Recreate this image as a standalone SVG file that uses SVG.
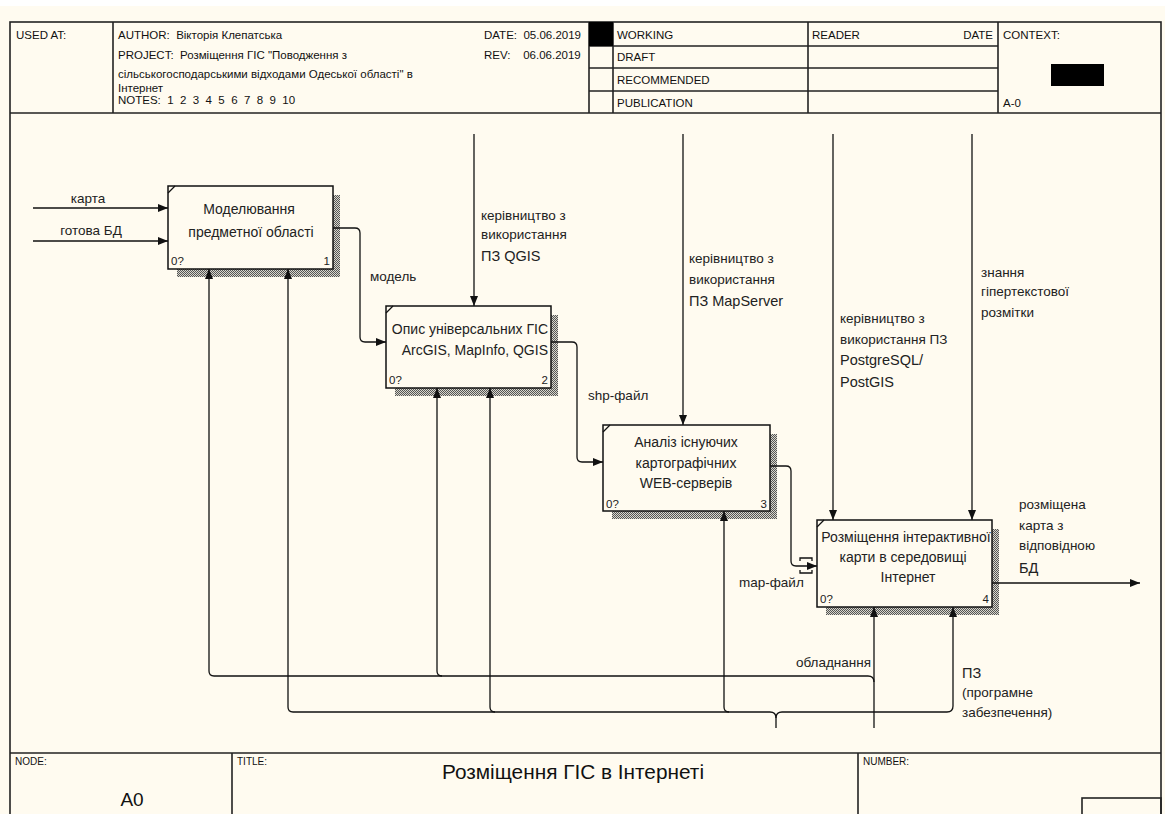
<svg xmlns="http://www.w3.org/2000/svg" width="1165" height="814" viewBox="0 0 1165 814">
<style>
.t{font-family:"Liberation Sans",Arial,sans-serif;fill:#111}
.h{font-size:11.5px;white-space:pre}
.f{font-size:10px}
.bx{font-size:14px;fill:#222}
.n{font-size:11.5px;fill:#222}
.l{font-size:13.5px;fill:#222}
.lb{font-size:14.5px;fill:#222}
.fr{fill:none;stroke:#222;stroke-width:1.6}
.c{fill:none;stroke:#111;stroke-width:1.3}
.box{fill:#fffbf0;stroke:#111;stroke-width:1.5}
.sh{fill:url(#hatch)}
</style>
<defs>
<pattern id="hatch" width="2" height="2" patternUnits="userSpaceOnUse">
<rect width="2" height="2" fill="#d8d6cc"/>
<rect width="1" height="1" fill="#555"/>
<rect x="1" y="1" width="1" height="1" fill="#555"/>
</pattern>
<marker id="ah" viewBox="0 0 10 8" refX="10" refY="4" markerWidth="10" markerHeight="8" markerUnits="userSpaceOnUse" orient="auto">
<path d="M0,0 L10,4 L0,8 z" fill="#111"/>
</marker>
</defs>
<rect width="1165" height="814" fill="#ffffff"/>
<rect y="6" width="1165" height="808" fill="#fffbf0"/>

<g id="frame">
<rect class="fr" x="10" y="22" width="1151" height="800"/>
<line class="fr" x1="10" y1="113" x2="1161" y2="113"/>
<line class="fr" x1="113" y1="22" x2="113" y2="113"/>
<line class="fr" x1="589" y1="22" x2="589" y2="113"/>
<line class="fr" x1="613" y1="22" x2="613" y2="113"/>
<line class="fr" x1="808" y1="22" x2="808" y2="113"/>
<line class="fr" x1="998" y1="22" x2="998" y2="113"/>
<line class="fr" x1="589" y1="46" x2="998" y2="46"/>
<line class="fr" x1="589" y1="68" x2="998" y2="68"/>
<line class="fr" x1="589" y1="91" x2="998" y2="91"/>
<rect x="589" y="22" width="24" height="24" fill="#000"/>
<rect x="1051" y="64" width="53" height="22" fill="#000"/>
<line class="fr" x1="10" y1="753" x2="1161" y2="753"/>
<line class="fr" x1="232" y1="753" x2="232" y2="814"/>
<line class="fr" x1="858" y1="753" x2="858" y2="814"/>
<rect class="fr" x="1082" y="798" width="79" height="24"/>
<text class="t h" x="16" y="39">USED AT:</text>
<text class="t h" x="118" y="39">AUTHOR:  Вікторія Клепатська</text>
<text class="t h" x="118" y="59">PROJECT:  Розміщення ГІС "Поводження з</text>
<text class="t h" x="118" y="78">сільськогосподарськими відходами Одеської області" в</text>
<text class="t h" x="118" y="92">Інтернет</text>
<text class="t h" x="118" y="104">NOTES:  1  2  3  4  5  6  7  8  9  10</text>
<text class="t h" x="484" y="39">DATE:  05.06.2019</text>
<text class="t h" x="484" y="59">REV:    06.06.2019</text>
<text class="t h" x="617" y="39">WORKING</text>
<text class="t h" x="617" y="61">DRAFT</text>
<text class="t h" x="617" y="84">RECOMMENDED</text>
<text class="t h" x="617" y="107">PUBLICATION</text>
<text class="t h" x="812" y="39">READER</text>
<text class="t h" x="993" y="39" text-anchor="end">DATE</text>
<text class="t h" x="1003" y="39">CONTEXT:</text>
<text class="t h" x="1003" y="107">A-0</text>
<text class="t f" x="15" y="765">NODE:</text>
<text class="t f" x="237" y="765">TITLE:</text>
<text class="t f" x="863" y="765">NUMBER:</text>
<text class="t" x="132" y="806" font-size="19" text-anchor="middle">A0</text>
<text class="t" x="442" y="779" font-size="20" textLength="262" lengthAdjust="spacingAndGlyphs">Розміщення ГІС в Інтернеті</text>
</g>

<g id="node1">
<rect class="sh" x="333" y="195" width="7" height="82"/>
<rect class="sh" x="177" y="269" width="163" height="8"/>
<rect class="box" x="168" y="186" width="165" height="83"/>
<line class="c" x1="168" y1="193" x2="175" y2="186"/>
<text class="t bx" x="249" y="214" text-anchor="middle">Моделювання</text>
<text class="t bx" x="251" y="237" text-anchor="middle">предметної області</text>
<text class="t n" x="171" y="265">0?</text>
<text class="t n" x="330" y="265" text-anchor="end">1</text>
</g>

<g id="node2">
<rect class="sh" x="551" y="315" width="7" height="81"/>
<rect class="sh" x="395" y="388" width="163" height="8"/>
<rect class="box" x="386" y="306" width="165" height="82"/>
<line class="c" x1="386" y1="313" x2="393" y2="306"/>
<text class="t bx" x="548" y="334" text-anchor="end">Опис універсальних ГІС</text>
<text class="t bx" x="548" y="355" text-anchor="end">ArcGIS, MapInfo, QGIS</text>
<text class="t n" x="389" y="384">0?</text>
<text class="t n" x="548" y="384" text-anchor="end">2</text>
</g>

<g id="node3">
<rect class="sh" x="770" y="434" width="7" height="85"/>
<rect class="sh" x="612" y="511" width="165" height="8"/>
<rect class="box" x="603" y="425" width="167" height="86"/>
<line class="c" x1="603" y1="432" x2="610" y2="425"/>
<text class="t bx" x="686" y="447" text-anchor="middle">Аналіз існуючих</text>
<text class="t bx" x="686" y="468" text-anchor="middle">картографічних</text>
<text class="t bx" x="686" y="488" text-anchor="middle">WEB-серверів</text>
<text class="t n" x="606" y="508">0?</text>
<text class="t n" x="767" y="508" text-anchor="end">3</text>
</g>

<g id="node4">
<rect class="sh" x="992" y="529" width="7" height="86"/>
<rect class="sh" x="826" y="607" width="173" height="8"/>
<rect class="box" x="817" y="520" width="175" height="87"/>
<line class="c" x1="817" y1="527" x2="824" y2="520"/>
<text class="t bx" x="906" y="542" text-anchor="middle">Розміщення інтерактивної</text>
<text class="t bx" x="903" y="562" text-anchor="middle">карти в середовищі</text>
<text class="t bx" x="908" y="582" text-anchor="middle">Інтернет</text>
<text class="t n" x="820" y="603">0?</text>
<text class="t n" x="989" y="603" text-anchor="end">4</text>
</g>

<g id="connectors">
<path class="c" d="M33,208 H168" marker-end="url(#ah)"/>
<path class="c" d="M33,241 H168" marker-end="url(#ah)"/>
<path class="c" d="M333,228 H355 Q360,228 360,233 V337 Q360,342 365,342 H386" marker-end="url(#ah)"/>
<path class="c" d="M551,342 H572 Q577,342 577,347 V457 Q577,462 582,462 H603" marker-end="url(#ah)"/>
<path class="c" d="M770,466 H786 Q791,466 791,471 V561 Q791,566 796,566 H817" marker-end="url(#ah)"/>
<path class="c" d="M800,561 V558 H812 V561 M800,570 V573 H812 V570"/>
<path class="c" d="M992,583 H1140" marker-end="url(#ah)"/>
<path class="c" d="M474,134 V306" marker-end="url(#ah)"/>
<path class="c" d="M683,134 V425" marker-end="url(#ah)"/>
<path class="c" d="M833,134 V520" marker-end="url(#ah)"/>
<path class="c" d="M972,134 V520" marker-end="url(#ah)"/>
<path class="c" d="M874,728 V607" marker-end="url(#ah)"/>
<path class="c" d="M874,682 Q874,676 868,676 H214 Q209,676 209,671 V269" marker-end="url(#ah)"/>
<path class="c" d="M442,676 Q437,676 437,671 V388" marker-end="url(#ah)"/>
<path class="c" d="M776,728 V718 Q776,712 770,712 H293 Q288,712 288,707 V269" marker-end="url(#ah)"/>
<path class="c" d="M776,718 Q776,712 782,712 H947 Q953,712 953,706 V607" marker-end="url(#ah)"/>
<path class="c" d="M495,712 Q490,712 490,707 V388" marker-end="url(#ah)"/>
<path class="c" d="M729,712 Q724,712 724,707 V511" marker-end="url(#ah)"/>
</g>

<g id="labels">
<text class="t l" x="88" y="203" text-anchor="middle">карта</text>
<text class="t l" x="91" y="235" text-anchor="middle">готова БД</text>
<text class="t l" x="370" y="281">модель</text>
<text class="t l" x="481" y="220">керівництво з</text>
<text class="t l" x="481" y="239">використання</text>
<text class="t lb" x="481" y="261">ПЗ QGIS</text>
<text class="t l" x="689" y="263">керівництво з</text>
<text class="t l" x="689" y="284">використання</text>
<text class="t lb" x="689" y="306">ПЗ MapServer</text>
<text class="t l" x="840" y="323">керівництво з</text>
<text class="t l" x="840" y="344">використання ПЗ</text>
<text class="t lb" x="840" y="365">PostgreSQL/</text>
<text class="t lb" x="840" y="387">PostGIS</text>
<text class="t l" x="981" y="277">знання</text>
<text class="t l" x="981" y="296">гіпертекстової</text>
<text class="t l" x="981" y="317">розмітки</text>
<text class="t l" x="588" y="400">shp-файл</text>
<text class="t l" x="739" y="587">map-файл</text>
<text class="t l" x="1019" y="509">розміщена</text>
<text class="t l" x="1019" y="530">карта з</text>
<text class="t l" x="1019" y="550">відповідною</text>
<text class="t lb" x="1019" y="573">БД</text>
<text class="t l" x="871" y="667" text-anchor="end">обладнання</text>
<text class="t lb" x="962" y="678">ПЗ</text>
<text class="t l" x="962" y="697">(програмне</text>
<text class="t l" x="962" y="717">забезпечення)</text>
</g>
</svg>
